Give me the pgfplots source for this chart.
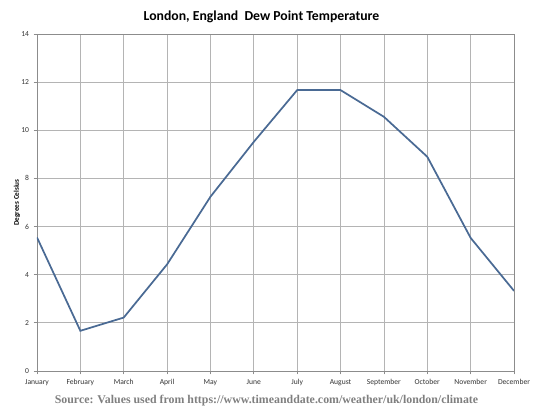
\documentclass[border=0pt]{standalone}
\usepackage{fontspec}
\setmainfont{Carlito}
\newfontfamily\srcfont{Liberation Serif}
\usepackage{pgfplots}
\pgfplotsset{compat=1.18}
\definecolor{dewline}{HTML}{4A6A94}
\definecolor{gridgray}{HTML}{B4B4B4}
\definecolor{axgray}{HTML}{8C8C8C}
\definecolor{srcgray}{HTML}{7F7F7F}

\pgfplotstableread{
m  t
0  5.55
1  1.67
2  2.22
3  4.43
4  7.24
5  9.52
6  11.67
7  11.67
8  10.56
9  8.90
10 5.53
11 3.33
}\dewdata

\begin{document}
\begin{tikzpicture}
\begin{axis}[
  name=ax,
  at={(0,0)}, anchor=south west,
  scale only axis,
  width=357.75pt, height=252.75pt,
  xmin=0, xmax=11, ymin=0, ymax=14,
  xtick=data,
  xticklabels={January,February,March,April,May,June,July,August,September,October,November,December},
  ytick={0,2,...,14},
  grid=major,
  grid style={gridgray, line width=0.6pt},
  axis line style={axgray, line width=0.6pt},
  tick style={axgray, line width=0.6pt},
  tick align=outside,
  major tick length=2.5pt,
  xtick pos=left, ytick pos=left,
  /pgf/number format/assume math mode=true,
  tick label style={font=\fontsize{5.7}{6}\selectfont, text=black!80},
  xticklabel style={yshift=-0.5pt},
  ylabel={\textbf{Degrees Celsius}},
  ylabel style={font=\fontsize{5.4}{6}\selectfont, at={(axis description cs:-0.042,0.5)}, anchor=center},
  title={\textbf{London, England\ \ Dew Point Temperature}},
  title style={font=\fontsize{10.3}{12}\selectfont, at={(axis description cs:0.5,1)}, anchor=center, yshift=6.75pt, xshift=-10.5pt},
]
\addplot[dewline, line width=1.3pt, mark=none] table[x=m, y=t] {\dewdata};
\end{axis}
\node[font=\srcfont\bfseries\fontsize{8.9}{10}\selectfont, text=srcgray] at ([xshift=-6.75pt, yshift=-22.5pt]ax.south)
  {Source: Values used from https://www.timeanddate.com/weather/uk/london/climate};
\useasboundingbox ([xshift=-27.75pt, yshift=-30pt]ax.south west) rectangle ([xshift=19.5pt, yshift=25.5pt]ax.north east);
\end{tikzpicture}
\end{document}
